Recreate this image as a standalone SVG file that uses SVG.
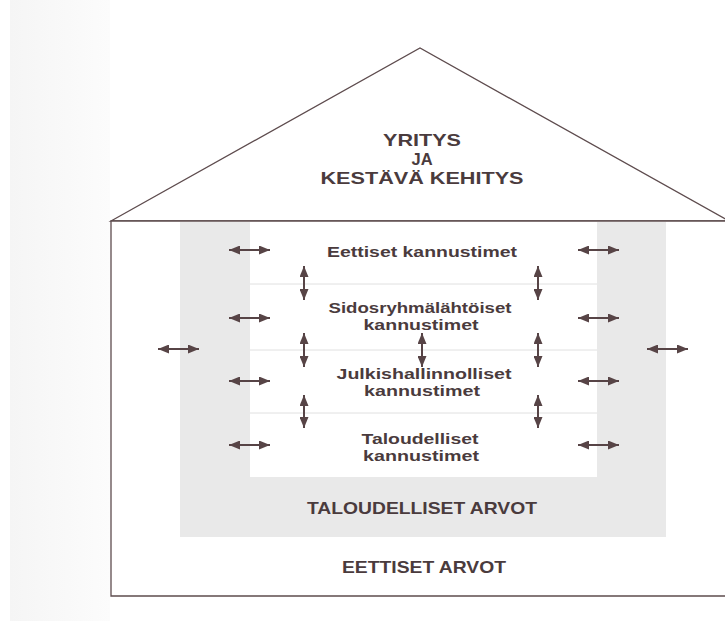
<svg xmlns="http://www.w3.org/2000/svg" width="725" height="621" viewBox="0 0 725 621">
  <style>
    .t { font-family: "Liberation Sans", Arial, sans-serif; font-weight: bold; fill: #4a3b3d; text-anchor: middle; }
    .title { font-size: 16.5px; }
    .lbl { font-size: 15px; }
    .val { font-size: 16.5px; }
    .edge { fill: none; stroke: #5e4c4e; stroke-width: 1.3; }
    .sep { stroke: #e0e0e0; stroke-width: 1; }
    .arr { stroke: #574446; stroke-width: 2; marker-start: url(#head); marker-end: url(#head); }
  </style>
  <defs>
    <marker id="head" viewBox="0 0 11 9" refX="11" refY="4.5" markerWidth="11" markerHeight="9" markerUnits="userSpaceOnUse" orient="auto-start-reverse">
      <path d="M0,0 L11,4.5 L0,9 z" fill="#574446"/>
    </marker>
    <linearGradient id="shade" x1="0" y1="0" x2="1" y2="0">
      <stop offset="0" stop-color="#f5f5f5"/>
      <stop offset="1" stop-color="#fcfcfc"/>
    </linearGradient>
  </defs>

  <rect x="0" y="0" width="725" height="621" fill="#ffffff"/>
  <rect x="10" y="0" width="100" height="621" fill="url(#shade)"/>

  <g id="roof">
    <polygon points="111,221 420,48 729,221" fill="#ffffff" stroke="#5e4c4e" stroke-width="1.3"/>
    <text class="t title" x="422" y="146" textLength="78" lengthAdjust="spacingAndGlyphs">YRITYS</text>
    <text class="t title" x="422" y="165">JA</text>
    <text class="t title" x="422" y="184" textLength="203" lengthAdjust="spacingAndGlyphs">KESTÄVÄ KEHITYS</text>
  </g>

  <g id="eettiset-arvot">
    <rect x="111" y="221" width="620" height="375" fill="#ffffff"/>
    <path class="edge" d="M731,221 H111 V596 H731"/>
    <text class="t val" x="424" y="573" textLength="164" lengthAdjust="spacingAndGlyphs">EETTISET ARVOT</text>
  </g>

  <g id="taloudelliset-arvot">
    <rect x="180" y="222" width="486" height="315" fill="#e9e9e9"/>
    <rect x="250" y="222" width="347" height="255" fill="#ffffff"/>
    <text class="t val" x="422" y="514" textLength="230" lengthAdjust="spacingAndGlyphs">TALOUDELLISET ARVOT</text>
  </g>

  <g id="separators">
    <line class="sep" x1="250" y1="284" x2="597" y2="284"/>
    <line class="sep" x1="250" y1="350" x2="597" y2="350"/>
    <line class="sep" x1="250" y1="413" x2="597" y2="413"/>
  </g>

  <g id="eettiset-kannustimet">
    <text class="t lbl" x="422" y="257" textLength="190" lengthAdjust="spacingAndGlyphs">Eettiset kannustimet</text>
  </g>
  <g id="sidosryhmalahtoiset-kannustimet">
    <text class="t lbl" x="420" y="313" textLength="183" lengthAdjust="spacingAndGlyphs">Sidosryhmälähtöiset</text>
    <text class="t lbl" x="421" y="330" textLength="115" lengthAdjust="spacingAndGlyphs">kannustimet</text>
  </g>
  <g id="julkishallinnolliset-kannustimet">
    <text class="t lbl" x="424" y="379" textLength="175" lengthAdjust="spacingAndGlyphs">Julkishallinnolliset</text>
    <text class="t lbl" x="422" y="396" textLength="116" lengthAdjust="spacingAndGlyphs">kannustimet</text>
  </g>
  <g id="taloudelliset-kannustimet">
    <text class="t lbl" x="420" y="444" textLength="117" lengthAdjust="spacingAndGlyphs">Taloudelliset</text>
    <text class="t lbl" x="421" y="461" textLength="116" lengthAdjust="spacingAndGlyphs">kannustimet</text>
  </g>

  <g id="connectors">
    <line class="arr" x1="229" y1="250" x2="270" y2="250"/>
    <line class="arr" x1="229" y1="318" x2="270" y2="318"/>
    <line class="arr" x1="229" y1="381" x2="270" y2="381"/>
    <line class="arr" x1="229" y1="445" x2="270" y2="445"/>
    <line class="arr" x1="578" y1="250" x2="619" y2="250"/>
    <line class="arr" x1="578" y1="318" x2="619" y2="318"/>
    <line class="arr" x1="578" y1="381" x2="619" y2="381"/>
    <line class="arr" x1="578" y1="445" x2="619" y2="445"/>
    <line class="arr" x1="158" y1="349" x2="199" y2="349"/>
    <line class="arr" x1="647" y1="349" x2="688" y2="349"/>
    <line class="arr" x1="304" y1="266" x2="304" y2="300"/>
    <line class="arr" x1="538" y1="266" x2="538" y2="300"/>
    <line class="arr" x1="304" y1="333" x2="304" y2="367"/>
    <line class="arr" x1="422" y1="333" x2="422" y2="367"/>
    <line class="arr" x1="538" y1="333" x2="538" y2="367"/>
    <line class="arr" x1="304" y1="395" x2="304" y2="428"/>
    <line class="arr" x1="538" y1="395" x2="538" y2="428"/>
  </g>
</svg>
